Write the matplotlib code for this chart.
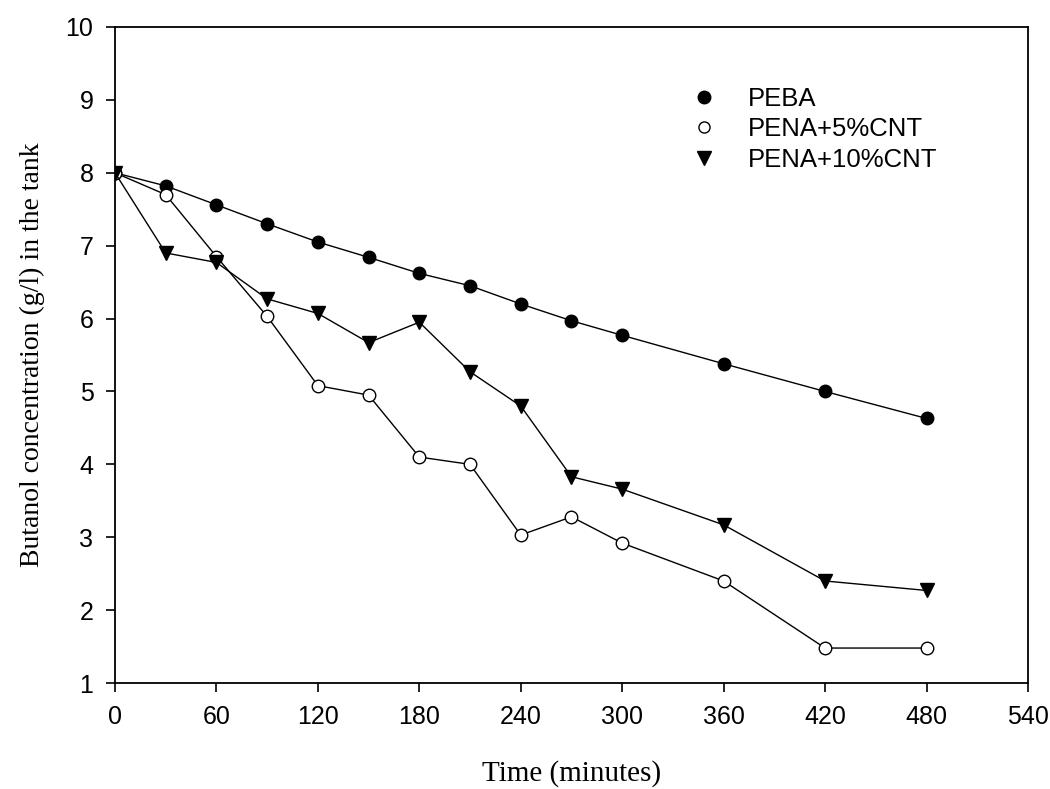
import matplotlib.pyplot as plt
from matplotlib.lines import Line2D

# Dados
tempo = [0, 30, 60, 90, 120, 150, 180, 210, 240, 270, 300, 360, 420, 480]
peba = [8.0, 7.82, 7.56, 7.3, 7.05, 6.84, 6.62, 6.45, 6.2, 5.97, 5.77, 5.38, 5.0, 4.63]
pena_5 = [8.0, 7.7, 6.85, 6.03, 5.08, 4.95, 4.1, 4.0, 3.03, 3.28, 2.92, 2.4, 1.48, 1.48]
pena_10 = [8.0, 6.9, 6.77, 6.27, 6.07, 5.67, 5.95, 5.27, 4.8, 3.83, 3.66, 3.17, 2.4, 2.27]
rotulos = ['PEBA', 'PENA+5%CNT', 'PENA+10%CNT']

x_ticks = list(range(0, 541, 60))
y_ticks = list(range(1, 11))

fig = plt.figure(figsize=(10.5, 7.89), dpi=100)
ax = fig.add_axes([0.1095, 0.1343, 0.8695, 0.8315])

ms = 9
ax.plot(tempo, peba, color='black', lw=1, marker='o', ms=ms, mfc='black', mec='black')
ax.plot(tempo, pena_5, color='black', lw=1, marker='o', ms=ms, mfc='white', mec='black')
ax.plot(tempo, pena_10, color='black', lw=1, marker='v', ms=ms + 1, mfc='black', mec='black')

ax.set_xlim(0, 540)
ax.set_ylim(1, 10)
ax.set_xticks(x_ticks)
ax.set_yticks(y_ticks)
ax.tick_params(direction='out', length=6.5, width=1.2, labelsize=18, pad=9)
for lbl in ax.get_xticklabels() + ax.get_yticklabels():
    lbl.set_family('Liberation Sans')
for s in ax.spines.values():
    s.set_linewidth(1.3)

ax.set_xlabel('Time (minutes)', family='Liberation Serif', fontsize=21, labelpad=23)
ax.set_ylabel('Butanol concentration (g/l) in the tank', family='Liberation Serif', fontsize=20, labelpad=15)

# Legenda so com marcadores
handles = [
    Line2D([], [], ls='none', marker='o', ms=ms, mfc='black', mec='black'),
    Line2D([], [], ls='none', marker='o', ms=ms - 1, mfc='white', mec='black'),
    Line2D([], [], ls='none', marker='v', ms=ms + 1, mfc='black', mec='black'),
]
ax.legend(handles, rotulos, loc='upper left', bbox_to_anchor=(0.592, 0.944), frameon=False,
          prop={'family': 'Liberation Sans', 'size': 18.5}, handletextpad=0.7, labelspacing=0.25)

fig.savefig('out.png', dpi=100)
